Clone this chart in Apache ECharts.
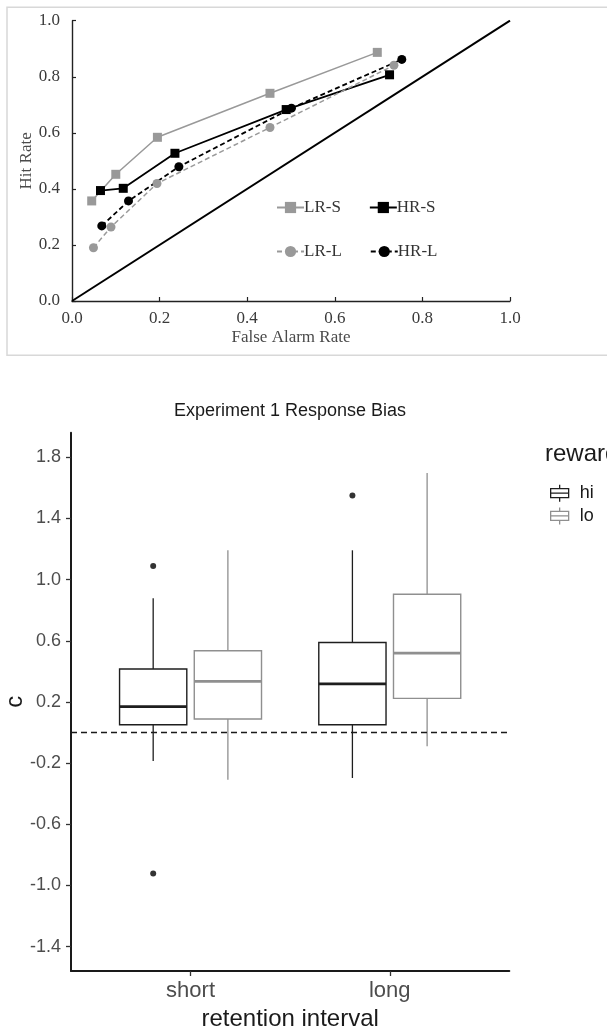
<!DOCTYPE html>
<html>
<head>
<meta charset="utf-8">
<script src="https://cdn.jsdelivr.net/npm/echarts@6/dist/echarts.min.js"></script>
<style>
html,body{margin:0;padding:0;background:#fff;}
#chart{width:607px;height:1028px;}
</style>
</head>
<body>
<div id="chart"></div>
<script>
// ---------- Top chart data (ROC curves) ----------
const rocNames = ['LR-S', 'HR-S', 'LR-L', 'HR-L'];
const lrS = [[0.045, 0.357], [0.100, 0.452], [0.195, 0.584], [0.452, 0.741], [0.697, 0.887]];
const hrS = [[0.065, 0.394], [0.117, 0.402], [0.235, 0.527], [0.489, 0.683], [0.725, 0.807]];
const lrL = [[0.049, 0.190], [0.089, 0.264], [0.194, 0.419], [0.452, 0.619], [0.735, 0.841]];
const hrL = [[0.068, 0.268], [0.129, 0.357], [0.244, 0.479], [0.501, 0.688], [0.753, 0.862]];
const chanceLine = [[0, 0], [1, 1]];

// ---------- Bottom chart data (box plot) ----------
const retention = ['short', 'long'];
const rewards = ['hi', 'lo'];
// [lower whisker, Q1, median, Q3, upper whisker]
const hiStats = [[-0.186, 0.051, 0.170, 0.416, 0.878], [-0.297, 0.051, 0.319, 0.589, 1.192]];
const loStats = [[-0.308, 0.089, 0.335, 0.535, 1.192], [-0.089, 0.224, 0.519, 0.905, 1.697]];
// [category index, value]
const hiOutliers = [[0, 1.089], [0, -0.922], [1, 1.551]];
const cTicks = [-1.4, -1.0, -0.6, -0.2, 0.2, 0.6, 1.0, 1.4, 1.8];

const DODGE = 0.1875, BOXW = 0.3375;
const HI_COLOR = '#1e1e1e', LO_COLOR = '#8f8f8f';

function boxData(stats, off) {
  return stats.map((s, i) => [i + 1 + off].concat(s));
}
function outlierData(list, off) {
  return list.map(d => [d[0] + 1 + off, d[1]]);
}

function renderBox(color) {
  return function (params, api) {
    const x = api.value(0);
    const lw = api.value(1), q1 = api.value(2), md = api.value(3), q3 = api.value(4), hw = api.value(5);
    const half = api.size([BOXW, 0])[0] / 2;
    const pQ1 = api.coord([x, q1]), pQ3 = api.coord([x, q3]);
    const pMd = api.coord([x, md]), pLw = api.coord([x, lw]), pHw = api.coord([x, hw]);
    const cx = pQ1[0];
    return {
      type: 'group',
      children: [
        {type: 'line', shape: {x1: cx, y1: pQ3[1], x2: cx, y2: pHw[1]}, style: {stroke: color, lineWidth: 1.3}},
        {type: 'line', shape: {x1: cx, y1: pQ1[1], x2: cx, y2: pLw[1]}, style: {stroke: color, lineWidth: 1.3}},
        {type: 'rect', shape: {x: cx - half, y: pQ3[1], width: half * 2, height: pQ1[1] - pQ3[1]},
          style: {fill: '#fff', stroke: color, lineWidth: 1.4}},
        {type: 'line', shape: {x1: cx - half, y1: pMd[1], x2: cx + half, y2: pMd[1]}, style: {stroke: color, lineWidth: 2.7}}
      ]
    };
  };
}

const serif = '"Liberation Serif", "Times New Roman", serif';
const sans = '"Liberation Sans", Arial, Helvetica, sans-serif';
const boxIcon = 'path://M0,4 L18,4 L18,13 L0,13 Z M0,8.5 L18,8.5 M9,0 L9,4 M9,13 L9,17';

const chart = echarts.init(document.getElementById('chart'), null, {renderer: 'canvas', width: 607, height: 1028});

const lineSeries = (name, data, color, dashed, symbol) => ({
  name: name, type: 'line', xAxisIndex: 0, yAxisIndex: 0, data: data,
  symbol: symbol, symbolSize: 9,
  itemStyle: {color: color},
  lineStyle: {color: color, width: color === '#000' ? 1.8 : 1.5, type: dashed ? [5, 3] : 'solid'},
  z: 3
});

const option = {
  animation: false,
  backgroundColor: '#fff',
  graphic: [
    {type: 'rect', shape: {x: 7, y: 7.3, width: 610, height: 348}, style: {fill: 'none', stroke: '#d8d8d8', lineWidth: 1.5}, z: -1},
    {type: 'text', x: 290, y: 411, style: {text: 'Experiment 1 Response Bias', font: '18px ' + sans, fill: '#1a1a1a', textAlign: 'center', textVerticalAlign: 'middle'}},
    {type: 'text', x: 545, y: 454, style: {text: 'reward', font: '24px ' + sans, fill: '#1a1a1a', textAlign: 'left', textVerticalAlign: 'middle'}}
  ],
  legend: [
    {
      left: 271, top: 194, itemWidth: 27, itemHeight: 14, itemGap: 28,
      data: ['LR-S', 'HR-S'],
      textStyle: {fontFamily: serif, fontSize: 17, color: '#333', padding: [0, 0, 0, -5]},
      selectedMode: false
    },
    {
      left: 271, top: 238, itemWidth: 27, itemHeight: 14, itemGap: 28,
      data: ['LR-L', 'HR-L'],
      textStyle: {fontFamily: serif, fontSize: 17, color: '#333', padding: [0, 0, 0, -5]},
      selectedMode: false
    },
    {
      left: 545, top: 479, orient: 'vertical', itemWidth: 18, itemHeight: 17, itemGap: 4.5,
      data: [
        {name: 'hi', icon: boxIcon, itemStyle: {color: 'transparent', borderColor: HI_COLOR, borderWidth: 1.3}},
        {name: 'lo', icon: boxIcon, itemStyle: {color: 'transparent', borderColor: LO_COLOR, borderWidth: 1.3}}
      ],
      textStyle: {fontFamily: sans, fontSize: 18, color: '#1a1a1a', padding: [0, 0, 0, 6]},
      selectedMode: false
    }
  ],
  grid: [
    {left: 72, top: 20.7, width: 438, height: 280.3, outerBoundsMode: 'none', containLabel: false},
    {left: 71, top: 432.7, width: 438.3, height: 538.3, outerBoundsMode: 'none', containLabel: false}
  ],
  xAxis: [
    {
      type: 'value', gridIndex: 0, min: 0, max: 1, interval: 0.2,
      name: 'False Alarm Rate', nameLocation: 'middle', nameGap: 28, nameMoveOverlap: false,
      nameTextStyle: {fontFamily: serif, fontSize: 17, color: '#4a4a4a'},
      axisLine: {lineStyle: {color: '#222', width: 1.4}},
      axisTick: {inside: true, length: 4, lineStyle: {color: '#222', width: 1.2}},
      axisLabel: {fontFamily: serif, fontSize: 17, color: '#3a3a3a', margin: 9, formatter: v => v.toFixed(1)},
      splitLine: {show: false}
    },
    {
      type: 'value', gridIndex: 1, min: 0.4, max: 2.6,
      name: 'retention interval', nameLocation: 'middle', nameGap: 36, nameMoveOverlap: false,
      nameTextStyle: {fontFamily: sans, fontSize: 24, color: '#1a1a1a'},
      axisLine: {onZero: false, lineStyle: {color: '#1a1a1a', width: 2}},
      axisTick: {customValues: [1, 2], length: 5, lineStyle: {color: '#333', width: 1.3}},
      axisLabel: {customValues: [1, 2], fontFamily: sans, fontSize: 22, color: '#4d4d4d', margin: 9,
        formatter: v => retention[Math.round(v) - 1]},
      splitLine: {show: false}
    }
  ],
  yAxis: [
    {
      type: 'value', gridIndex: 0, min: 0, max: 1, interval: 0.2,
      name: 'Hit Rate', nameLocation: 'middle', nameGap: 37, nameRotate: 90, nameMoveOverlap: false,
      nameTextStyle: {fontFamily: serif, fontSize: 17, color: '#4a4a4a'},
      axisLine: {show: true, lineStyle: {color: '#222', width: 1.4}},
      axisTick: {show: true, inside: true, length: 4, lineStyle: {color: '#222', width: 1.2}},
      axisLabel: {fontFamily: serif, fontSize: 17, color: '#3a3a3a', margin: 12, formatter: v => v.toFixed(1)},
      splitLine: {show: false}
    },
    {
      type: 'value', gridIndex: 1, min: -1.559, max: 1.961,
      name: 'c', nameLocation: 'middle', nameGap: 44, nameRotate: 90, nameMoveOverlap: false,
      nameTextStyle: {fontFamily: sans, fontSize: 24, color: '#1a1a1a'},
      axisLine: {show: true, onZero: false, lineStyle: {color: '#1a1a1a', width: 2}},
      axisTick: {show: true, customValues: cTicks, length: 5, lineStyle: {color: '#333', width: 1.3}},
      axisLabel: {customValues: cTicks, fontFamily: sans, fontSize: 18, color: '#4d4d4d', margin: 10,
        formatter: v => v.toFixed(1)},
      splitLine: {show: false}
    }
  ],
  series: [
    {
      name: 'chance', type: 'line', xAxisIndex: 0, yAxisIndex: 0, data: chanceLine,
      symbol: 'none', lineStyle: {color: '#000', width: 2}, z: 2, silent: true
    },
    lineSeries('LR-S', lrS, '#999', false, 'rect'),
    lineSeries('HR-S', hrS, '#000', false, 'rect'),
    lineSeries('LR-L', lrL, '#999', true, 'circle'),
    lineSeries('HR-L', hrL, '#000', true, 'circle'),
    {
      name: 'hi', type: 'custom', xAxisIndex: 1, yAxisIndex: 1,
      data: boxData(hiStats, -DODGE), encode: {x: 0, y: [1, 2, 3, 4, 5]},
      renderItem: renderBox(HI_COLOR), itemStyle: {color: HI_COLOR}, z: 3,
      markLine: {
        silent: true, symbol: 'none', label: {show: false},
        lineStyle: {color: '#1a1a1a', type: [6, 4], width: 1.3},
        data: [{yAxis: 0}]
      }
    },
    {
      name: 'lo', type: 'custom', xAxisIndex: 1, yAxisIndex: 1,
      data: boxData(loStats, DODGE), encode: {x: 0, y: [1, 2, 3, 4, 5]},
      renderItem: renderBox(LO_COLOR), itemStyle: {color: LO_COLOR}, z: 3
    },
    {
      name: 'hi outliers', type: 'scatter', xAxisIndex: 1, yAxisIndex: 1,
      data: outlierData(hiOutliers, -DODGE), symbol: 'circle', symbolSize: 6,
      itemStyle: {color: '#000'}, z: 4
    }
  ]
};
chart.setOption(option);
</script>
</body>
</html>
